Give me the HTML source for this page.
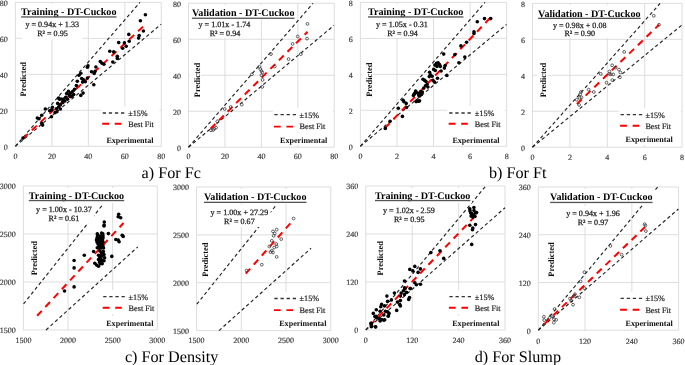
<!DOCTYPE html>
<html><head><meta charset="utf-8"><style>
html,body{margin:0;padding:0;background:#fff;width:685px;height:365px;overflow:hidden}
svg{display:block;will-change:transform}
text{font-family:"Liberation Serif",serif;text-rendering:geometricPrecision}
.tk{font-size:8px;fill:#404040;stroke:#404040;stroke-width:0.2px}
.ti{font-size:10.1px;font-weight:bold;fill:#000}
.eq{font-size:8.1px;fill:#222;stroke:#222;stroke-width:0.25px}
.ax{font-size:8.1px;font-weight:bold;fill:#111}
.pr{font-size:8.4px;font-weight:bold;fill:#111}
.lg{font-size:8.2px;fill:#222;stroke:#222;stroke-width:0.2px}
.cap{font-size:16.2px;fill:#000}
.pm{stroke:#222;stroke-width:1.15;stroke-dasharray:3.4 2.7;fill:none}
.bf{stroke:#f00;stroke-width:2;stroke-dasharray:6.8 5.3;fill:none}
</style></head><body>
<svg width="685" height="365" viewBox="0 0 685 365">
<rect width="685" height="365" fill="#fff"/>
<path d="M15.4 2.4V146.3M15.4 146.3H161.3M51.88 2.4V146.3M15.4 110.33H161.3M88.35 2.4V146.3M15.4 74.35H161.3M124.83 2.4V146.3M15.4 38.38H161.3M161.3 2.4V146.3M15.4 2.4H161.3" stroke="#d9d9d9" stroke-width="0.9" fill="none"/>
<text x="15.4" y="159" class="tk" text-anchor="middle">0</text>
<text x="7.8" y="149.7" class="tk" text-anchor="end">0</text>
<text x="51.88" y="159" class="tk" text-anchor="middle">20</text>
<text x="7.8" y="113.73" class="tk" text-anchor="end">20</text>
<text x="88.35" y="159" class="tk" text-anchor="middle">40</text>
<text x="7.8" y="77.75" class="tk" text-anchor="end">40</text>
<text x="124.83" y="159" class="tk" text-anchor="middle">60</text>
<text x="7.8" y="41.77" class="tk" text-anchor="end">60</text>
<text x="161.3" y="159" class="tk" text-anchor="middle">80</text>
<text x="7.8" y="5.8" class="tk" text-anchor="end">80</text>
<path d="M15.4 146.3L140 2.3" class="pm"/>
<path d="M15.4 146.3L161.1 24.3" class="pm"/>
<path d="M23 138.5L143.8 25.9" class="bf"/>
<g fill="#000"><circle cx="145.4" cy="14.8" r="1.8"/><circle cx="140.4" cy="20.7" r="1.8"/><circle cx="143.4" cy="31" r="1.8"/><circle cx="139.2" cy="35.5" r="1.8"/><circle cx="138.6" cy="38.1" r="1.8"/><circle cx="128.8" cy="34.4" r="1.8"/><circle cx="129.2" cy="41.2" r="1.8"/><circle cx="124.4" cy="42.9" r="1.8"/><circle cx="126.2" cy="46.2" r="1.8"/><circle cx="122.6" cy="48.3" r="1.8"/><circle cx="118.7" cy="42.6" r="1.8"/><circle cx="109.8" cy="51.3" r="1.8"/><circle cx="113.7" cy="51.9" r="1.8"/><circle cx="117.3" cy="56.3" r="1.8"/><circle cx="117.3" cy="58.4" r="1.8"/><circle cx="112.8" cy="62" r="1.8"/><circle cx="100.3" cy="61.6" r="1.8"/><circle cx="101.8" cy="63.1" r="1.8"/><circle cx="103.9" cy="64.3" r="1.8"/><circle cx="95.9" cy="67" r="1.8"/><circle cx="95" cy="71.4" r="1.8"/><circle cx="88" cy="65.7" r="1.8"/><circle cx="87.4" cy="67.3" r="1.8"/><circle cx="91.5" cy="71.7" r="1.8"/><circle cx="94.2" cy="73.5" r="1.8"/><circle cx="80.8" cy="73.2" r="1.8"/><circle cx="79" cy="75.3" r="1.8"/><circle cx="81.7" cy="78.5" r="1.8"/><circle cx="83.5" cy="79.9" r="1.8"/><circle cx="85.3" cy="81.7" r="1.8"/><circle cx="82.6" cy="82.1" r="1.8"/><circle cx="87.4" cy="78.1" r="1.8"/><circle cx="93.8" cy="84.7" r="1.8"/><circle cx="77.3" cy="81.2" r="1.8"/><circle cx="76.4" cy="85.6" r="1.8"/><circle cx="74.6" cy="89.2" r="1.8"/><circle cx="72.8" cy="91.3" r="1.8"/><circle cx="71" cy="92.7" r="1.8"/><circle cx="68.4" cy="91.3" r="1.8"/><circle cx="66.6" cy="93.6" r="1.8"/><circle cx="69.2" cy="94.5" r="1.8"/><circle cx="71.9" cy="96.3" r="1.8"/><circle cx="73.7" cy="94.5" r="1.8"/><circle cx="83.1" cy="93.1" r="1.8"/><circle cx="80.8" cy="95.4" r="1.8"/><circle cx="65.7" cy="97.2" r="1.8"/><circle cx="63.9" cy="99" r="1.8"/><circle cx="61.2" cy="99" r="1.8"/><circle cx="58.6" cy="98.1" r="1.8"/><circle cx="63" cy="101.3" r="1.8"/><circle cx="60.3" cy="104.9" r="1.8"/><circle cx="57.7" cy="103.4" r="1.8"/><circle cx="58.6" cy="107" r="1.8"/><circle cx="56.4" cy="108.8" r="1.8"/><circle cx="51.5" cy="109.9" r="1.8"/><circle cx="52.4" cy="107.3" r="1.8"/><circle cx="55.1" cy="112.6" r="1.8"/><circle cx="56.9" cy="111.7" r="1.8"/><circle cx="51.5" cy="116.7" r="1.8"/><circle cx="49.7" cy="110.8" r="1.8"/><circle cx="45.3" cy="109" r="1.8"/><circle cx="41.7" cy="115.3" r="1.8"/><circle cx="37.3" cy="118" r="1.8"/><circle cx="39" cy="118.8" r="1.8"/><circle cx="41.7" cy="123.3" r="1.8"/><circle cx="42.6" cy="125.1" r="1.8"/><circle cx="23" cy="138.1" r="1.8"/><circle cx="62.7" cy="102.8" r="1.8"/><circle cx="64.9" cy="101" r="1.8"/><circle cx="67.5" cy="99.2" r="1.8"/><circle cx="70.2" cy="96.6" r="1.8"/><circle cx="59.5" cy="99.2" r="1.8"/><circle cx="60.4" cy="109" r="1.8"/></g>
<g fill="#fff"><rect x="20" y="4" width="98" height="14.5"/><rect x="22" y="19" width="60.3" height="20.4"/><rect x="16.5" y="60" width="11" height="38"/><rect x="101.5" y="106.6" width="58" height="26"/><rect x="104" y="133" width="54" height="12"/></g>
<text x="21.1" y="15.3" class="ti">Training - DT-Cuckoo</text>
<rect x="21.1" y="16.3" width="95.4" height="1.3" fill="#555"/>
<text x="25.4" y="27" class="eq">y = 0.94x + 1.33</text>
<text x="37.2" y="36.3" class="eq">R² = 0.95</text>
<text transform="translate(25.9 79.3) rotate(-90)" class="pr" text-anchor="middle">Predicted</text>
<path d="M102.7 113h21.7" stroke="#333" stroke-width="1.3" stroke-dasharray="3.3 2.8"/>
<path d="M102.2 123.8h19.1" stroke="#f00" stroke-width="1.9" stroke-dasharray="6.8 5.7"/>
<text x="128.2" y="115.8" class="lg">±15%</text>
<text x="128.2" y="126.6" class="lg">Best Fit</text>
<text x="106.4" y="142.8" class="ax">Experimental</text>
<path d="M188.5 3.3V147.2M188.5 147.2H334.3M224.95 3.3V147.2M188.5 111.22H334.3M261.4 3.3V147.2M188.5 75.25H334.3M297.85 3.3V147.2M188.5 39.28H334.3M334.3 3.3V147.2M188.5 3.3H334.3" stroke="#d9d9d9" stroke-width="0.9" fill="none"/>
<text x="188.5" y="159.4" class="tk" text-anchor="middle">0</text>
<text x="180.9" y="150.6" class="tk" text-anchor="end">0</text>
<text x="224.95" y="159.4" class="tk" text-anchor="middle">20</text>
<text x="180.9" y="114.62" class="tk" text-anchor="end">20</text>
<text x="261.4" y="159.4" class="tk" text-anchor="middle">40</text>
<text x="180.9" y="78.65" class="tk" text-anchor="end">40</text>
<text x="297.85" y="159.4" class="tk" text-anchor="middle">60</text>
<text x="180.9" y="42.68" class="tk" text-anchor="end">60</text>
<text x="334.3" y="159.4" class="tk" text-anchor="middle">80</text>
<text x="180.9" y="6.7" class="tk" text-anchor="end">80</text>
<path d="M188.5 147.2L313 3.3" class="pm"/>
<path d="M188.5 147.2L333.9 25.4" class="pm"/>
<path d="M210.5 128.8L307.5 31.8" class="bf"/>
<g fill="none" stroke="#3c3c3c" stroke-width="0.8"><circle cx="307.5" cy="23.9" r="1.4"/><circle cx="307" cy="38.6" r="1.4"/><circle cx="297.7" cy="36.5" r="1.4"/><circle cx="292.6" cy="43.9" r="1.4"/><circle cx="271" cy="54.1" r="1.4"/><circle cx="300.8" cy="54.1" r="1.4"/><circle cx="288.6" cy="59.1" r="1.4"/><circle cx="274.7" cy="66.5" r="1.4"/><circle cx="259.4" cy="66.7" r="1.4"/><circle cx="260.3" cy="69.1" r="1.4"/><circle cx="261.5" cy="71" r="1.4"/><circle cx="262.3" cy="72.5" r="1.4"/><circle cx="261.5" cy="75.3" r="1.4"/><circle cx="251.9" cy="74.3" r="1.4"/><circle cx="262.6" cy="79.9" r="1.4"/><circle cx="262.3" cy="86.9" r="1.4"/><circle cx="241.7" cy="104.6" r="1.4"/><circle cx="224.7" cy="109" r="1.4"/><circle cx="230.7" cy="107" r="1.4"/><circle cx="217.3" cy="121.3" r="1.4"/><circle cx="216" cy="127.6" r="1.4"/><circle cx="214.3" cy="128.7" r="1.4"/><circle cx="211" cy="130.3" r="1.4"/><circle cx="213.2" cy="130" r="1.4"/></g>
<g fill="#fff"><rect x="190" y="5" width="107" height="14.5"/><rect x="197" y="19" width="56" height="19"/><rect x="190" y="60" width="11" height="40"/><rect x="273" y="108" width="60" height="24"/><rect x="278" y="133" width="54" height="12"/></g>
<text x="192" y="16.4" class="ti">Validation - DT-Cuckoo</text>
<rect x="192" y="17.6" width="102.53" height="1.3" fill="#555"/>
<text x="198.5" y="27" class="eq">y = 1.01x - 1.74</text>
<text x="209.7" y="35.6" class="eq">R² = 0.94</text>
<text transform="translate(199.8 80) rotate(-90)" class="pr" text-anchor="middle">Predicted</text>
<path d="M274.4 114.7h21.7" stroke="#333" stroke-width="1.3" stroke-dasharray="3.3 2.8"/>
<path d="M273.9 126.6h19.1" stroke="#f00" stroke-width="1.9" stroke-dasharray="6.8 5.7"/>
<text x="299.6" y="117.5" class="lg">±15%</text>
<text x="299.6" y="129.4" class="lg">Best Fit</text>
<text x="280" y="142.5" class="ax">Experimental</text>
<path d="M360.4 2.4V146.3M360.4 146.3H506.7M396.97 2.4V146.3M360.4 110.33H506.7M433.55 2.4V146.3M360.4 74.35H506.7M470.12 2.4V146.3M360.4 38.38H506.7M506.7 2.4V146.3M360.4 2.4H506.7" stroke="#d9d9d9" stroke-width="0.9" fill="none"/>
<text x="360.4" y="159" class="tk" text-anchor="middle">0</text>
<text x="352.8" y="149.7" class="tk" text-anchor="end">0</text>
<text x="396.97" y="159" class="tk" text-anchor="middle">2</text>
<text x="352.8" y="113.73" class="tk" text-anchor="end">2</text>
<text x="433.55" y="159" class="tk" text-anchor="middle">4</text>
<text x="352.8" y="77.75" class="tk" text-anchor="end">4</text>
<text x="470.12" y="159" class="tk" text-anchor="middle">6</text>
<text x="352.8" y="41.77" class="tk" text-anchor="end">6</text>
<text x="506.7" y="159" class="tk" text-anchor="middle">8</text>
<text x="352.8" y="5.8" class="tk" text-anchor="end">8</text>
<path d="M360.4 146.3L485 2.4" class="pm"/>
<path d="M360.4 146.3L506.5 24.5" class="pm"/>
<path d="M385.1 128L490.6 17.5" class="bf"/>
<g fill="#000"><circle cx="490.7" cy="18.6" r="1.8"/><circle cx="484.5" cy="18.6" r="1.8"/><circle cx="477.3" cy="21.8" r="1.8"/><circle cx="474" cy="31.8" r="1.8"/><circle cx="474" cy="33.5" r="1.8"/><circle cx="466.6" cy="42.2" r="1.8"/><circle cx="460.9" cy="45.9" r="1.8"/><circle cx="443.7" cy="54.1" r="1.8"/><circle cx="454.9" cy="54.6" r="1.8"/><circle cx="464.8" cy="57.1" r="1.8"/><circle cx="458.9" cy="62.8" r="1.8"/><circle cx="446.9" cy="75.5" r="1.8"/><circle cx="436.5" cy="63.2" r="1.8"/><circle cx="438.1" cy="62.8" r="1.8"/><circle cx="439.5" cy="64.5" r="1.8"/><circle cx="434.9" cy="65.1" r="1.8"/><circle cx="437" cy="66.4" r="1.8"/><circle cx="440.3" cy="66.4" r="1.8"/><circle cx="433.7" cy="69.4" r="1.8"/><circle cx="435.3" cy="70.5" r="1.8"/><circle cx="441.1" cy="71" r="1.8"/><circle cx="445.2" cy="65.6" r="1.8"/><circle cx="444.4" cy="68.1" r="1.8"/><circle cx="429.6" cy="72.2" r="1.8"/><circle cx="430.4" cy="74.7" r="1.8"/><circle cx="429.3" cy="76.6" r="1.8"/><circle cx="432.1" cy="76.3" r="1.8"/><circle cx="437.5" cy="78.3" r="1.8"/><circle cx="423" cy="79.3" r="1.8"/><circle cx="424.7" cy="80.4" r="1.8"/><circle cx="426" cy="81.6" r="1.8"/><circle cx="432.9" cy="80.4" r="1.8"/><circle cx="434.5" cy="82.1" r="1.8"/><circle cx="427.1" cy="84.5" r="1.8"/><circle cx="425.5" cy="85.8" r="1.8"/><circle cx="427.9" cy="87" r="1.8"/><circle cx="423.8" cy="88.1" r="1.8"/><circle cx="420.5" cy="91.9" r="1.8"/><circle cx="415.6" cy="91.1" r="1.8"/><circle cx="414" cy="94.4" r="1.8"/><circle cx="418.1" cy="93.6" r="1.8"/><circle cx="419.7" cy="96" r="1.8"/><circle cx="421.4" cy="94.4" r="1.8"/><circle cx="416.4" cy="101" r="1.8"/><circle cx="418.9" cy="101.3" r="1.8"/><circle cx="385.3" cy="128.4" r="1.8"/><circle cx="390.1" cy="121.2" r="1.8"/><circle cx="402.4" cy="116.4" r="1.8"/><circle cx="398.3" cy="108.2" r="1.8"/><circle cx="406.5" cy="107.5" r="1.8"/><circle cx="406.2" cy="103.4" r="1.8"/><circle cx="403.1" cy="100.3" r="1.8"/><circle cx="403.8" cy="101.6" r="1.8"/><circle cx="413.4" cy="95.5" r="1.8"/><circle cx="414.7" cy="93.4" r="1.8"/><circle cx="416.1" cy="92.1" r="1.8"/><circle cx="418.8" cy="95.5" r="1.8"/><circle cx="416.1" cy="101.6" r="1.8"/><circle cx="417.7" cy="101" r="1.8"/><circle cx="419.5" cy="100.7" r="1.8"/><circle cx="420.2" cy="94.1" r="1.8"/><circle cx="422.3" cy="92.1" r="1.8"/></g>
<g fill="#fff"><rect x="366" y="4" width="100" height="14.5"/><rect x="374" y="19" width="56" height="19"/><rect x="362" y="60" width="11" height="40"/><rect x="447" y="106" width="58" height="26"/><rect x="450" y="133" width="54" height="12"/></g>
<text x="368" y="15.3" class="ti">Training - DT-Cuckoo</text>
<rect x="368" y="16.3" width="95.4" height="1.3" fill="#555"/>
<text x="376" y="27" class="eq">y = 1.05x - 0.31</text>
<text x="387.2" y="35.6" class="eq">R² = 0.94</text>
<text transform="translate(372.3 79.7) rotate(-90)" class="pr" text-anchor="middle">Predicted</text>
<path d="M449.2 113h21.7" stroke="#333" stroke-width="1.3" stroke-dasharray="3.3 2.8"/>
<path d="M448.7 123.8h19.1" stroke="#f00" stroke-width="1.9" stroke-dasharray="6.8 5.7"/>
<text x="474.8" y="115.8" class="lg">±15%</text>
<text x="474.8" y="126.6" class="lg">Best Fit</text>
<text x="452.4" y="142.8" class="ax">Experimental</text>
<path d="M532.5 3.4V147.2M532.5 147.2H682.1M569.9 3.4V147.2M532.5 111.25H682.1M607.3 3.4V147.2M532.5 75.3H682.1M644.7 3.4V147.2M532.5 39.35H682.1M682.1 3.4V147.2M532.5 3.4H682.1" stroke="#d9d9d9" stroke-width="0.9" fill="none"/>
<text x="532.5" y="159.6" class="tk" text-anchor="middle">0</text>
<text x="524.9" y="150.6" class="tk" text-anchor="end">0</text>
<text x="569.9" y="159.6" class="tk" text-anchor="middle">2</text>
<text x="524.9" y="114.65" class="tk" text-anchor="end">2</text>
<text x="607.3" y="159.6" class="tk" text-anchor="middle">4</text>
<text x="524.9" y="78.7" class="tk" text-anchor="end">4</text>
<text x="644.7" y="159.6" class="tk" text-anchor="middle">6</text>
<text x="524.9" y="42.75" class="tk" text-anchor="end">6</text>
<text x="682.1" y="159.6" class="tk" text-anchor="middle">8</text>
<text x="524.9" y="6.8" class="tk" text-anchor="end">8</text>
<path d="M532.5 147.2L660.1 3.4" class="pm"/>
<path d="M532.5 147.2L681.7 25.2" class="pm"/>
<path d="M576.9 104L659 24.8" class="bf"/>
<g fill="none" stroke="#3c3c3c" stroke-width="0.8"><circle cx="653.8" cy="15.8" r="1.4"/><circle cx="659" cy="24.8" r="1.4"/><circle cx="624.2" cy="51.9" r="1.4"/><circle cx="612.1" cy="65.3" r="1.4"/><circle cx="615.6" cy="67.7" r="1.4"/><circle cx="619" cy="69.6" r="1.4"/><circle cx="620.4" cy="72.5" r="1.4"/><circle cx="619.9" cy="77.3" r="1.4"/><circle cx="600.8" cy="73.9" r="1.4"/><circle cx="609.4" cy="73.9" r="1.4"/><circle cx="610.8" cy="74.4" r="1.4"/><circle cx="613.2" cy="74.4" r="1.4"/><circle cx="612.3" cy="80.1" r="1.4"/><circle cx="606.5" cy="82.7" r="1.4"/><circle cx="609.4" cy="71.5" r="1.4"/><circle cx="588.7" cy="89.6" r="1.4"/><circle cx="593.8" cy="92" r="1.4"/><circle cx="581" cy="92" r="1.4"/><circle cx="580.1" cy="94.4" r="1.4"/><circle cx="581.5" cy="97.3" r="1.4"/><circle cx="579.6" cy="97.7" r="1.4"/><circle cx="576.7" cy="99.7" r="1.4"/><circle cx="579.1" cy="104.9" r="1.4"/></g>
<g fill="#fff"><rect x="536" y="5" width="107" height="14.5"/><rect x="551" y="19" width="57" height="19"/><rect x="537" y="60" width="11" height="40"/><rect x="619" y="108" width="62" height="24"/><rect x="623" y="133" width="54" height="12"/></g>
<text x="538.1" y="16.5" class="ti">Validation - DT-Cuckoo</text>
<rect x="538.1" y="17.7" width="102.53" height="1.3" fill="#555"/>
<text x="552.9" y="27.6" class="eq">y = 0.98x + 0.08</text>
<text x="564.4" y="36.3" class="eq">R² = 0.90</text>
<text transform="translate(546.1 80) rotate(-90)" class="pr" text-anchor="middle">Predicted</text>
<path d="M620.6 114.7h21.7" stroke="#333" stroke-width="1.3" stroke-dasharray="3.3 2.8"/>
<path d="M620.1 125.7h19.1" stroke="#f00" stroke-width="1.9" stroke-dasharray="6.8 5.7"/>
<text x="645.4" y="117.5" class="lg">±15%</text>
<text x="645.4" y="128.5" class="lg">Best Fit</text>
<text x="625.5" y="142.3" class="ax">Experimental</text>
<path d="M23.4 186V330M23.4 330H157.3M68.03 186V330M23.4 282H157.3M112.67 186V330M23.4 234H157.3M157.3 186V330M23.4 186H157.3" stroke="#d9d9d9" stroke-width="0.9" fill="none"/>
<text x="23.4" y="342.6" class="tk" text-anchor="middle">1500</text>
<text x="15.8" y="333.4" class="tk" text-anchor="end">1500</text>
<text x="68.03" y="342.6" class="tk" text-anchor="middle">2000</text>
<text x="15.8" y="285.4" class="tk" text-anchor="end">2000</text>
<text x="112.67" y="342.6" class="tk" text-anchor="middle">2500</text>
<text x="15.8" y="237.4" class="tk" text-anchor="end">2500</text>
<text x="157.3" y="342.6" class="tk" text-anchor="middle">3000</text>
<text x="15.8" y="189.4" class="tk" text-anchor="end">3000</text>
<path d="M23.6 303.9L103 204.3" class="pm"/>
<path d="M46 330L137.7 247" class="pm"/>
<path d="M37.1 315.8L123.5 223" class="bf"/>
<g fill="#000"><circle cx="100" cy="251" r="1.8"/><circle cx="101.5" cy="253" r="1.8"/><circle cx="100.5" cy="255.5" r="1.8"/><circle cx="102" cy="256" r="1.8"/><circle cx="101" cy="259" r="1.8"/><circle cx="102.5" cy="261" r="1.8"/><circle cx="99.5" cy="262" r="1.8"/><circle cx="97.3" cy="233.9" r="1.8"/><circle cx="101.6" cy="233" r="1.8"/><circle cx="102.8" cy="233.9" r="1.8"/><circle cx="108.4" cy="233.6" r="1.8"/><circle cx="104" cy="226" r="1.8"/><circle cx="97.5" cy="236" r="1.8"/><circle cx="99.5" cy="236" r="1.8"/><circle cx="101.5" cy="236" r="1.8"/><circle cx="103" cy="236" r="1.8"/><circle cx="97" cy="238" r="1.8"/><circle cx="99" cy="238" r="1.8"/><circle cx="101" cy="238" r="1.8"/><circle cx="103" cy="238" r="1.8"/><circle cx="96.5" cy="240" r="1.8"/><circle cx="98.5" cy="240" r="1.8"/><circle cx="100.5" cy="240" r="1.8"/><circle cx="102.5" cy="240" r="1.8"/><circle cx="97" cy="242" r="1.8"/><circle cx="99" cy="242" r="1.8"/><circle cx="101" cy="242" r="1.8"/><circle cx="103" cy="242" r="1.8"/><circle cx="98" cy="244" r="1.8"/><circle cx="100" cy="244" r="1.8"/><circle cx="102" cy="244" r="1.8"/><circle cx="99" cy="246" r="1.8"/><circle cx="101" cy="246" r="1.8"/><circle cx="103" cy="246" r="1.8"/><circle cx="99.5" cy="248" r="1.8"/><circle cx="101.5" cy="248" r="1.8"/><circle cx="103.5" cy="248" r="1.8"/><circle cx="103.4" cy="251.5" r="1.8"/><circle cx="104" cy="254.6" r="1.8"/><circle cx="104.6" cy="257.7" r="1.8"/><circle cx="104" cy="260.7" r="1.8"/><circle cx="102.2" cy="263.8" r="1.8"/><circle cx="93.6" cy="251.5" r="1.8"/><circle cx="97.3" cy="247.8" r="1.8"/><circle cx="98.5" cy="255.2" r="1.8"/><circle cx="99.7" cy="257.7" r="1.8"/><circle cx="98.5" cy="259.5" r="1.8"/><circle cx="100.3" cy="261.4" r="1.8"/><circle cx="94.8" cy="263.2" r="1.8"/><circle cx="96.6" cy="265" r="1.8"/><circle cx="98.5" cy="266.3" r="1.8"/><circle cx="100.3" cy="263.8" r="1.8"/><circle cx="84.3" cy="255.2" r="1.8"/><circle cx="111.8" cy="256.4" r="1.8"/><circle cx="118.7" cy="214.2" r="1.8"/><circle cx="118.2" cy="216.7" r="1.8"/><circle cx="120.7" cy="217.7" r="1.8"/><circle cx="104.3" cy="222" r="1.8"/><circle cx="104.1" cy="225" r="1.8"/><circle cx="122.2" cy="235.2" r="1.8"/><circle cx="123.2" cy="236.4" r="1.8"/><circle cx="115.8" cy="239.5" r="1.8"/><circle cx="118.2" cy="240.1" r="1.8"/><circle cx="119.1" cy="241.7" r="1.8"/><circle cx="74.1" cy="260.5" r="1.8"/><circle cx="74.1" cy="267.9" r="1.8"/><circle cx="74.1" cy="286.9" r="1.8"/><circle cx="64.5" cy="291" r="1.8"/></g>
<g fill="#fff"><rect x="27" y="188" width="99" height="15"/><rect x="34" y="203" width="60" height="20"/><rect x="29" y="238" width="10" height="42"/><rect x="101" y="290" width="55" height="24"/><rect x="104" y="316" width="52" height="12"/></g>
<text x="28.8" y="199.1" class="ti">Training - DT-Cuckoo</text>
<rect x="28.8" y="199.9" width="95.4" height="1.3" fill="#555"/>
<text x="36.1" y="211.7" class="eq">y = 1.00x - 10.37</text>
<text x="48.6" y="220.5" class="eq">R² = 0.61</text>
<text transform="translate(36.8 258.2) rotate(-90)" class="pr" text-anchor="middle">Predicted</text>
<path d="M103.2 296.7h21.7" stroke="#333" stroke-width="1.3" stroke-dasharray="3.3 2.8"/>
<path d="M102.7 307.7h19.1" stroke="#f00" stroke-width="1.9" stroke-dasharray="6.8 5.7"/>
<text x="128.6" y="299.5" class="lg">±15%</text>
<text x="128.6" y="310.5" class="lg">Best Fit</text>
<text x="106.2" y="326.2" class="ax">Experimental</text>
<path d="M196.6 187V330.6M196.6 330.6H330.8M241.33 187V330.6M196.6 282.73H330.8M286.07 187V330.6M196.6 234.87H330.8M330.8 187V330.6M196.6 187H330.8" stroke="#d9d9d9" stroke-width="0.9" fill="none"/>
<text x="196.6" y="343.3" class="tk" text-anchor="middle">1500</text>
<text x="189" y="334" class="tk" text-anchor="end">1500</text>
<text x="241.33" y="343.3" class="tk" text-anchor="middle">2000</text>
<text x="189" y="286.13" class="tk" text-anchor="end">2000</text>
<text x="286.07" y="343.3" class="tk" text-anchor="middle">2500</text>
<text x="189" y="238.27" class="tk" text-anchor="end">2500</text>
<text x="330.8" y="343.3" class="tk" text-anchor="middle">3000</text>
<text x="189" y="190.4" class="tk" text-anchor="end">3000</text>
<path d="M196.8 304.2L275.5 206" class="pm"/>
<path d="M219 330.6L311 248.3" class="pm"/>
<path d="M245.7 273.7L293.6 219.7" class="bf"/>
<g fill="none" stroke="#3c3c3c" stroke-width="0.8"><circle cx="293.6" cy="218.5" r="1.4"/><circle cx="276.7" cy="229.6" r="1.4"/><circle cx="273" cy="231.4" r="1.4"/><circle cx="274.7" cy="233.4" r="1.4"/><circle cx="273.7" cy="235.8" r="1.4"/><circle cx="281.2" cy="239.1" r="1.4"/><circle cx="271.8" cy="240.8" r="1.4"/><circle cx="276.2" cy="244" r="1.4"/><circle cx="269.3" cy="246.5" r="1.4"/><circle cx="274.2" cy="247.5" r="1.4"/><circle cx="276.7" cy="246.5" r="1.4"/><circle cx="271.8" cy="250.7" r="1.4"/><circle cx="270.5" cy="252" r="1.4"/><circle cx="273" cy="252.5" r="1.4"/><circle cx="276.7" cy="256.9" r="1.4"/><circle cx="261.8" cy="264.7" r="1.4"/><circle cx="246.6" cy="270.5" r="1.4"/></g>
<g fill="#fff"><rect x="202" y="189" width="107" height="15"/><rect x="208" y="205" width="62.7" height="22"/><rect x="201" y="238" width="10" height="42"/><rect x="272" y="292" width="57" height="24"/><rect x="277" y="316" width="52" height="12"/></g>
<text x="204" y="200.3" class="ti">Validation - DT-Cuckoo</text>
<rect x="204" y="201.7" width="102.53" height="1.3" fill="#555"/>
<text x="210.5" y="215" class="eq">y = 1.00x + 27.29</text>
<text x="224.1" y="223.7" class="eq">R² = 0.67</text>
<text transform="translate(208 259.7) rotate(-90)" class="pr" text-anchor="middle">Predicted</text>
<path d="M274.4 298.5h21.7" stroke="#333" stroke-width="1.3" stroke-dasharray="3.3 2.8"/>
<path d="M273.9 310.1h19.1" stroke="#f00" stroke-width="1.9" stroke-dasharray="6.8 5.7"/>
<text x="299.6" y="301.3" class="lg">±15%</text>
<text x="299.6" y="312.9" class="lg">Best Fit</text>
<text x="279.2" y="326" class="ax">Experimental</text>
<path d="M365.8 186V330M365.8 330H505M412.2 186V330M365.8 282H505M458.6 186V330M365.8 234H505M505 186V330M365.8 186H505" stroke="#d9d9d9" stroke-width="0.9" fill="none"/>
<text x="365.8" y="342.7" class="tk" text-anchor="middle">0</text>
<text x="358.2" y="333.4" class="tk" text-anchor="end">0</text>
<text x="412.2" y="342.7" class="tk" text-anchor="middle">120</text>
<text x="358.2" y="285.4" class="tk" text-anchor="end">120</text>
<text x="458.6" y="342.7" class="tk" text-anchor="middle">240</text>
<text x="358.2" y="237.4" class="tk" text-anchor="end">240</text>
<text x="505" y="342.7" class="tk" text-anchor="middle">360</text>
<text x="358.2" y="189.4" class="tk" text-anchor="end">360</text>
<path d="M365.8 330L485.8 186" class="pm"/>
<path d="M365.8 330L505 207.8" class="pm"/>
<path d="M369.8 325.8L476.5 214.7" class="bf"/>
<g fill="#000"><circle cx="474" cy="210.5" r="1.8"/><circle cx="473.5" cy="215.5" r="1.8"/><circle cx="475" cy="216.5" r="1.8"/><circle cx="470" cy="211" r="1.8"/><circle cx="469.8" cy="208.9" r="1.8"/><circle cx="473.9" cy="207.5" r="1.8"/><circle cx="470.7" cy="213" r="1.8"/><circle cx="472.1" cy="213.7" r="1.8"/><circle cx="475.5" cy="213" r="1.8"/><circle cx="476.6" cy="212.6" r="1.8"/><circle cx="471.1" cy="216.1" r="1.8"/><circle cx="472.8" cy="217.1" r="1.8"/><circle cx="471.7" cy="215" r="1.8"/><circle cx="469.8" cy="225.3" r="1.8"/><circle cx="475.5" cy="224.6" r="1.8"/><circle cx="472.8" cy="228" r="1.8"/><circle cx="472.5" cy="229.8" r="1.8"/><circle cx="471.7" cy="244.4" r="1.8"/><circle cx="430.9" cy="252.6" r="1.8"/><circle cx="440" cy="250.8" r="1.8"/><circle cx="443.7" cy="258.4" r="1.8"/><circle cx="414.8" cy="266.4" r="1.8"/><circle cx="409.8" cy="269.4" r="1.8"/><circle cx="412.8" cy="270.9" r="1.8"/><circle cx="418.1" cy="272.4" r="1.8"/><circle cx="420.4" cy="268.9" r="1.8"/><circle cx="404.5" cy="281" r="1.8"/><circle cx="414.8" cy="282.8" r="1.8"/><circle cx="416.3" cy="284.8" r="1.8"/><circle cx="420.5" cy="284.3" r="1.8"/><circle cx="410.2" cy="288.6" r="1.8"/><circle cx="405" cy="288.6" r="1.8"/><circle cx="403.4" cy="290.8" r="1.8"/><circle cx="406.5" cy="292.3" r="1.8"/><circle cx="401.2" cy="293.1" r="1.8"/><circle cx="404.5" cy="294.6" r="1.8"/><circle cx="400.4" cy="296.1" r="1.8"/><circle cx="409.5" cy="297.6" r="1.8"/><circle cx="408.7" cy="299.4" r="1.8"/><circle cx="394.4" cy="293.1" r="1.8"/><circle cx="386.9" cy="296.1" r="1.8"/><circle cx="391.4" cy="299.9" r="1.8"/><circle cx="387.6" cy="301.4" r="1.8"/><circle cx="397.4" cy="302.1" r="1.8"/><circle cx="400.4" cy="300.6" r="1.8"/><circle cx="399.7" cy="304.4" r="1.8"/><circle cx="400.4" cy="305.9" r="1.8"/><circle cx="396.7" cy="310.4" r="1.8"/><circle cx="381.6" cy="304.4" r="1.8"/><circle cx="380.8" cy="306.7" r="1.8"/><circle cx="384.6" cy="305.9" r="1.8"/><circle cx="385.4" cy="311.2" r="1.8"/><circle cx="387.6" cy="311.9" r="1.8"/><circle cx="389.1" cy="313.4" r="1.8"/><circle cx="388.4" cy="315.7" r="1.8"/><circle cx="383.8" cy="315" r="1.8"/><circle cx="376.3" cy="309.7" r="1.8"/><circle cx="380.1" cy="311.2" r="1.8"/><circle cx="373.3" cy="313.4" r="1.8"/><circle cx="374.8" cy="316.5" r="1.8"/><circle cx="377.1" cy="318" r="1.8"/><circle cx="379.3" cy="318.7" r="1.8"/><circle cx="381.6" cy="319.5" r="1.8"/><circle cx="380.1" cy="321" r="1.8"/><circle cx="383.8" cy="320.2" r="1.8"/><circle cx="371" cy="323.2" r="1.8"/><circle cx="371.8" cy="326.3" r="1.8"/><circle cx="375.6" cy="327" r="1.8"/><circle cx="371.3" cy="326.7" r="1.8"/><circle cx="375.6" cy="326.7" r="1.8"/><circle cx="371.3" cy="323.4" r="1.8"/><circle cx="384.7" cy="319.7" r="1.8"/><circle cx="376" cy="316.2" r="1.8"/><circle cx="388.2" cy="316.2" r="1.8"/><circle cx="404.5" cy="287.8" r="1.8"/><circle cx="410.3" cy="288.5" r="1.8"/></g>
<g fill="#fff"><rect x="373" y="188" width="99" height="15"/><rect x="381" y="203" width="56" height="22"/><rect x="375" y="238" width="10" height="42"/><rect x="447" y="290" width="57" height="24"/><rect x="450" y="316" width="53" height="12"/></g>
<text x="375" y="199.1" class="ti">Training - DT-Cuckoo</text>
<rect x="375" y="199.9" width="95.4" height="1.3" fill="#555"/>
<text x="383" y="213.3" class="eq">y = 1.02x - 2.59</text>
<text x="393.9" y="222.1" class="eq">R² = 0.95</text>
<text transform="translate(383 258.3) rotate(-90)" class="pr" text-anchor="middle">Predicted</text>
<path d="M449.4 296.7h21.7" stroke="#333" stroke-width="1.3" stroke-dasharray="3.3 2.8"/>
<path d="M448.9 307.7h19.1" stroke="#f00" stroke-width="1.9" stroke-dasharray="6.8 5.7"/>
<text x="474.8" y="299.5" class="lg">±15%</text>
<text x="474.8" y="310.5" class="lg">Best Fit</text>
<text x="452.2" y="326.3" class="ax">Experimental</text>
<path d="M538.3 187V330.2M538.3 330.2H678.6M585.07 187V330.2M538.3 282.47H678.6M631.83 187V330.2M538.3 234.73H678.6M678.6 187V330.2M538.3 187H678.6" stroke="#d9d9d9" stroke-width="0.9" fill="none"/>
<text x="538.3" y="343.6" class="tk" text-anchor="middle">0</text>
<text x="530.7" y="333.6" class="tk" text-anchor="end">0</text>
<text x="585.07" y="343.6" class="tk" text-anchor="middle">120</text>
<text x="530.7" y="285.87" class="tk" text-anchor="end">120</text>
<text x="631.83" y="343.6" class="tk" text-anchor="middle">240</text>
<text x="530.7" y="238.13" class="tk" text-anchor="end">240</text>
<text x="678.6" y="343.6" class="tk" text-anchor="middle">360</text>
<text x="530.7" y="190.4" class="tk" text-anchor="end">360</text>
<path d="M538.3 330.2L657.7 187" class="pm"/>
<path d="M538.3 330.2L678.4 209" class="pm"/>
<path d="M544.5 323.9L645 227" class="bf"/>
<g fill="none" stroke="#3c3c3c" stroke-width="0.8"><circle cx="644.6" cy="224.2" r="1.4"/><circle cx="645.4" cy="225.5" r="1.4"/><circle cx="645.9" cy="231.1" r="1.4"/><circle cx="610.4" cy="245.9" r="1.4"/><circle cx="621.6" cy="254.6" r="1.4"/><circle cx="584.4" cy="272.2" r="1.4"/><circle cx="580.6" cy="281.4" r="1.4"/><circle cx="584.6" cy="288.3" r="1.4"/><circle cx="579.3" cy="297.3" r="1.4"/><circle cx="575" cy="294.2" r="1.4"/><circle cx="573.7" cy="296.1" r="1.4"/><circle cx="570" cy="298.6" r="1.4"/><circle cx="571.3" cy="301" r="1.4"/><circle cx="573.1" cy="304.7" r="1.4"/><circle cx="554.6" cy="309" r="1.4"/><circle cx="550.9" cy="315.8" r="1.4"/><circle cx="543.9" cy="316.8" r="1.4"/><circle cx="544.2" cy="320.1" r="1.4"/><circle cx="554" cy="319.3" r="1.4"/><circle cx="556.2" cy="319.8" r="1.4"/><circle cx="553.8" cy="322.6" r="1.4"/><circle cx="549.7" cy="317.7" r="1.4"/></g>
<g fill="#fff"><rect x="548" y="189" width="107" height="15"/><rect x="564" y="206" width="58" height="21"/><rect x="546" y="238" width="10" height="42"/><rect x="619" y="292" width="58" height="24"/><rect x="623" y="316" width="53" height="12"/></g>
<text x="550.1" y="200.3" class="ti">Validation - DT-Cuckoo</text>
<rect x="550.1" y="201.8" width="102.53" height="1.3" fill="#555"/>
<text x="566.2" y="216.4" class="eq">y = 0.94x + 1.96</text>
<text x="577.7" y="225.4" class="eq">R² = 0.97</text>
<text transform="translate(554.4 259.5) rotate(-90)" class="pr" text-anchor="middle">Predicted</text>
<path d="M620.6 298.3h21.7" stroke="#333" stroke-width="1.3" stroke-dasharray="3.3 2.8"/>
<path d="M620.1 309.8h19.1" stroke="#f00" stroke-width="1.9" stroke-dasharray="6.8 5.7"/>
<text x="645.4" y="301.1" class="lg">±15%</text>
<text x="645.4" y="312.6" class="lg">Best Fit</text>
<text x="625.5" y="326.2" class="ax">Experimental</text>
<text x="141.6" y="177.7" class="cap">a) For Fc</text>
<text x="488.9" y="177.8" class="cap">b) For Ft</text>
<text x="124.9" y="362.0" class="cap">c) For Density</text>
<text x="474.7" y="362.0" class="cap">d) For Slump</text>
</svg>
</body></html>
